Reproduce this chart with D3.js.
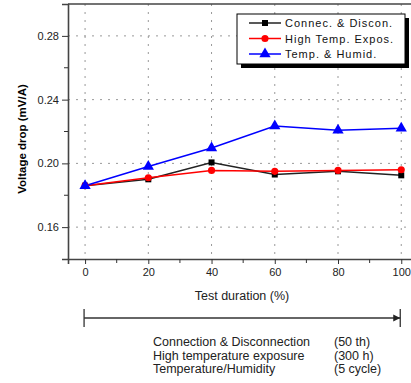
<!DOCTYPE html>
<html lang="en">
<head>
    <meta charset="UTF-8">
    <title>Voltage drop vs test duration</title>
    <script src="https://d3js.org/d3.v7.min.js"></script>
    <style>
        body { margin: 0; padding: 0; background: #fff; overflow: hidden; }
        svg { font-family: Arial, "Liberation Sans", sans-serif; }
        .tick-label { font-size: 11px; fill: #222; }
        .grid line { stroke: #999; stroke-dasharray: 2,6; stroke-width: 1; }
    </style>
</head>
<body>
    <svg id="chart" width="411" height="383"></svg>

    <script>
        // test duration (%) on the x axis
        const durations = [0, 20, 40, 60, 80, 100];

        // voltage drop values (mV/A)
        const connecDiscon = [0.186, 0.190, 0.2006, 0.193, 0.195, 0.1925];
        const highTempExpos = [0.186, 0.191, 0.1956, 0.195, 0.1956, 0.196];
        const tempHumid = [0.186, 0.198, 0.2096, 0.2235, 0.2208, 0.222];

        const seriesNames = ["Connec. & Discon.", "High Temp. Expos.", "Temp. & Humid."];
        const xTicks = [0, 20, 40, 60, 80, 100];
        const yTicks = [0.16, 0.20, 0.24, 0.28];

        const noteLeft = ["Connection & Disconnection", "High temperature exposure", "Temperature/Humidity"];
        const noteRight = ["(50 th)", "(300 h)", "(5 cycle)"];

        const series = [
            { name: seriesNames[0], values: connecDiscon, color: "#222", symbol: d3.symbolSquare, size: 36 },
            { name: seriesNames[1], values: highTempExpos, color: "#ff0000", symbol: d3.symbolCircle, size: 40 },
            { name: seriesNames[2], values: tempHumid, color: "#0000ff", symbol: d3.symbolTriangle, size: 55 }
        ];

        const svg = d3.select("#chart");

        // plot frame
        const pLeft = 68, pRight = 412, pTop = 4, pBottom = 259;

        const x = d3.scaleLinear().domain([-5.4, 103.4]).range([pLeft, pRight]);
        const y = d3.scaleLinear().domain([0.14, 0.30]).range([pBottom, pTop]);

        // dotted grid
        const grid = svg.append("g").attr("class", "grid");
        grid.selectAll(".vg")
            .data(xTicks)
            .enter().append("line")
            .attr("x1", d => x(d)).attr("x2", d => x(d))
            .attr("y1", pTop).attr("y2", pBottom);
        grid.selectAll(".hg")
            .data(yTicks)
            .enter().append("line")
            .attr("x1", pLeft).attr("x2", pRight)
            .attr("y1", d => y(d)).attr("y2", d => y(d));

        // axes
        const xAxis = svg.append("g")
            .attr("transform", `translate(0,${pBottom})`)
            .call(d3.axisBottom(x).tickValues(xTicks).tickSize(5).tickPadding(4).tickFormat(d3.format("d")));
        xAxis.append("g").selectAll("line")
            .data(d3.range(10, 101, 20))
            .enter().append("line")
            .attr("x1", d => x(d)).attr("x2", d => x(d))
            .attr("y1", 0).attr("y2", 4)
            .attr("stroke", "#333");

        const yAxis = svg.append("g")
            .attr("transform", `translate(${pLeft},0)`)
            .call(d3.axisLeft(y).tickValues(yTicks).tickSize(6).tickPadding(3).tickFormat(d3.format(".2f")));
        yAxis.append("g").selectAll("line")
            .data([0.18, 0.22, 0.26])
            .enter().append("line")
            .attr("y1", d => y(d)).attr("y2", d => y(d))
            .attr("x1", 0).attr("x2", -4)
            .attr("stroke", "#333");

        [xAxis, yAxis].forEach(a => {
            a.select(".domain").attr("stroke", "#444").attr("stroke-width", 1.6);
            a.selectAll(".tick line").attr("stroke", "#333");
            a.selectAll(".tick text").attr("class", "tick-label").attr("font-family", null).attr("font-size", null);
        });

        // top frame line
        svg.append("line")
            .attr("x1", pLeft).attr("x2", pRight)
            .attr("y1", pTop).attr("y2", pTop)
            .attr("stroke", "#444").attr("stroke-width", 1.6);

        // axis titles
        svg.append("text")
            .attr("transform", `translate(26,139) rotate(-90)`)
            .attr("text-anchor", "middle")
            .attr("font-size", 11.5)
            .attr("font-weight", "bold")
            .text("Voltage drop (mV/A)");

        svg.append("text")
            .attr("x", 242).attr("y", 300)
            .attr("text-anchor", "middle")
            .attr("font-size", 12.5)
            .attr("fill", "#222")
            .text("Test duration (%)");

        // lines and markers
        const line = d3.line()
            .x((d, i) => x(durations[i]))
            .y(d => y(d));

        series.forEach(s => {
            svg.append("path")
                .datum(s.values)
                .attr("fill", "none")
                .attr("stroke", s.color)
                .attr("stroke-width", 1.5)
                .attr("d", line);
        });
        series.forEach(s => {
            svg.append("g").selectAll("path")
                .data(s.values)
                .enter().append("path")
                .attr("transform", (d, i) => `translate(${x(durations[i])},${y(d)})`)
                .attr("d", d3.symbol().type(s.symbol).size(s.size))
                .attr("fill", s.color === "#222" ? "#000" : s.color);
        });

        // legend
        const lg = svg.append("g").attr("transform", "translate(237,14)");
        lg.append("rect").attr("x", 4).attr("y", 4).attr("width", 168).attr("height", 50).attr("fill", "#000");
        lg.append("rect").attr("x", 0).attr("y", 0).attr("width", 168).attr("height", 50)
            .attr("fill", "#fff").attr("stroke", "#000").attr("stroke-width", 1);
        series.forEach((s, i) => {
            const ry = 9 + i * 15.5;
            lg.append("line")
                .attr("x1", 12).attr("x2", 44)
                .attr("y1", ry).attr("y2", ry)
                .attr("stroke", s.color).attr("stroke-width", 1.5);
            lg.append("path")
                .attr("transform", `translate(28,${ry})`)
                .attr("d", d3.symbol().type(s.symbol).size(s.size))
                .attr("fill", s.color === "#222" ? "#000" : s.color);
            lg.append("text")
                .attr("x", 48).attr("y", ry + 4)
                .attr("font-size", 11)
                .attr("letter-spacing", 1)
                .attr("fill", "#111")
                .text(s.name);
        });

        // duration arrow below the chart
        const arrowY = 318;
        const ag = svg.append("g").attr("stroke", "#333").attr("stroke-width", 1.3);
        ag.append("line").attr("x1", x(0) - 1).attr("x2", x(100) - 1).attr("y1", arrowY).attr("y2", arrowY);
        ag.append("line").attr("x1", x(0) - 1).attr("x2", x(0) - 1).attr("y1", 309).attr("y2", 327);
        ag.append("line").attr("x1", x(100) - 1).attr("x2", x(100) - 1).attr("y1", 309).attr("y2", 327);
        svg.append("path")
            .attr("d", `M${x(100) - 1},${arrowY} l-7,-3.5 l0,7 z`)
            .attr("fill", "#222");

        const notes = svg.append("g").attr("font-size", 12.5).attr("fill", "#222");
        noteLeft.forEach((t, i) => {
            notes.append("text").attr("x", 153).attr("y", 346 + i * 13.5).text(t);
            notes.append("text").attr("x", 334).attr("y", 346 + i * 13.5).text(noteRight[i]);
        });
    </script>
</body>
</html>
